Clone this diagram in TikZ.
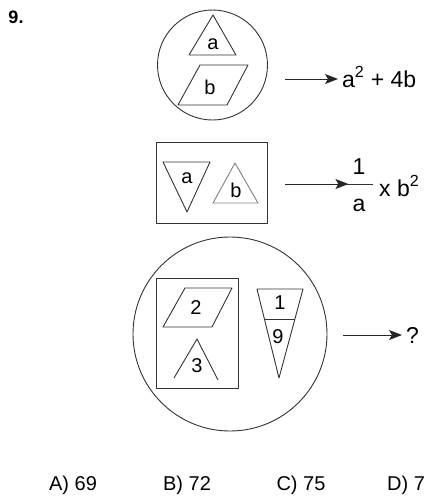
\documentclass[tikz,border=0pt]{standalone}
\usepackage{fontspec}
\setmainfont{Liberation Sans}
\usetikzlibrary{arrows.meta,calc}
\begin{document}
\begin{tikzpicture}[
      x=1pt, y=-1pt,
      linea/.style={draw=black!80, line width=0.9pt, line join=round},
      gris/.style={draw=black!50, line width=0.9pt, line join=round},
      etiq/.style={font=\fontsize{20}{23}\selectfont, inner sep=0pt},
      texto/.style={font=\fontsize{23}{27}\selectfont, inner sep=0pt},
      opcion/.style={font=\fontsize{20}{24}\selectfont, inner sep=0pt},
      flecha/.style={-{Stealth[length=13pt,width=10pt,inset=3pt]}, draw=black!85,
                     line width=1pt, shorten >=4pt}
    ]
    \useasboundingbox (0,0) rectangle (428,499);

    \node[font=\bfseries\fontsize{18}{20}\selectfont, inner sep=0pt] (num) at (16,17) {9.};

    % primera figura
    \draw[linea] (212.5,65) circle (55);
    \draw[linea] (213,15) -- (236,55) -- (189,55) -- cycle;
    \node[etiq] (a1) at (213,44) {a};
    \draw[linea] (200,65) -- (248,65) -- (227,105) -- (178,105) -- cycle;
    \node[etiq] (b1) at (210,87) {b};

    \coordinate (ini1) at (285,79);
    \node[texto, anchor=west] (res1) at (342,77) {a\textsuperscript{2} + 4b};
    \draw[flecha] (ini1) -- (ini1 -| res1.west);

    % segunda figura
    \draw[linea] (156,142) rectangle (267,223);
    \draw[linea] (163,162) -- (210,162) -- (187,212) -- cycle;
    \node[etiq] (a2) at (187,178) {a};
    \draw[gris] (235,163) -- (258,203) -- (213,203) -- cycle;
    \node[etiq] (b2) at (236,190) {b};

    \coordinate (ini2) at (285,184);
    \node[texto] (uno) at (359,167) {1};
    \draw[linea] (345,184) -- (373,184);
    \node[texto] (den) at (359,205) {a};
    \draw[flecha] (ini2) -- (ini2 -| uno.west);
    \node[texto, anchor=west] (xb) at (379,186) {x b\textsuperscript{2}};

    % tercera figura
    \draw[linea] (230,334) circle (97);
    \draw[linea] (156,278) rectangle (238,388);
    \draw[linea] (185,288) -- (232,288) -- (212,327) -- (163,327) -- cycle;
    \node[etiq] (dos) at (196,308) {2};
    \draw[linea] (174,378) -- (197,339) -- (218,380);
    \node[etiq] (tres) at (197,366) {3};

    \coordinate (t1) at (257,289);
    \coordinate (t2) at (303,289);
    \coordinate (t3) at (279,378);
    \draw[linea] (t1) -- (t2) -- (t3) -- cycle;
    \draw[linea] ($(t1)!0.34!(t3)$) -- ($(t2)!0.34!(t3)$);
    \node[etiq] (uno3) at (280,303) {1};
    \node[etiq] (nueve) at (278,337) {9};

    \coordinate (ini3) at (343,335);
    \node[texto, anchor=west] (preg) at (406,335) {?};
    \draw[flecha] (ini3) -- (preg.west);

    % opciones
    \node[opcion] (opA) at (73,485) {A) 69};
    \node[opcion] (opB) at (187,485) {B) 72};
    \node[opcion] (opC) at (301,485) {C) 75};
    \node[opcion, anchor=west] (opD) at (387,485) {D) 7};
  \end{tikzpicture}
\end{document}
